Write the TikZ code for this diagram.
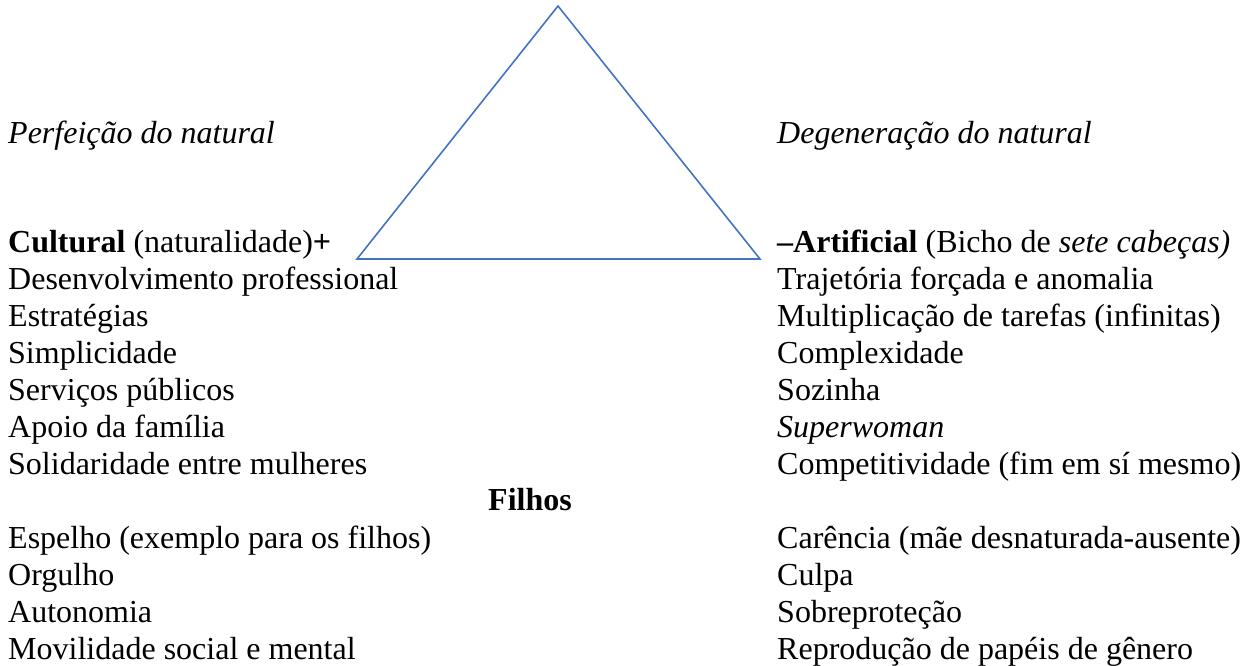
\documentclass[tikz,border=0pt]{standalone}
\usepackage{fontspec}
\setmainfont{Liberation Serif}
\usepackage{xcolor}
\usepackage{tikz}
\usetikzlibrary{positioning}

\definecolor{triblue}{RGB}{68,114,196}
\newcommand{\rowfont}{\fontsize{32}{36.6}\selectfont}

\begin{document}
\begin{tikzpicture}[
  x=1pt, y=-1pt,
  txt/.style={inner sep=0pt, text height=25.6pt, text depth=11pt, font=\rowfont},
  nxt/.style={txt, below=0pt of #1.south west, anchor=north west},
  tri/.style={draw=triblue, line width=1.6pt, line join=miter}
]
  \useasboundingbox (0,0) rectangle (1253,666);

  % Triangle
  \coordinate (apex) at (558,6);
  \coordinate (bl) at (357,259);
  \coordinate (br) at (760,259);
  \draw[tri] (apex) -- (bl) -- (br) -- cycle;

  % Headings
  \node[txt, anchor=base west] (perf) at (8,143) {\itshape Perfeição do natural};
  \node[txt, anchor=base west] (degen) at (777,143) {\itshape Degeneração do natural};

  % Left column
  \node[txt, anchor=base west] (cult) at (8,252.5) {\textbf{Cultural} (naturalidade)\textbf{+}};
  \node[nxt=cult] (desenv) {Desenvolvimento professional};
  \node[nxt=desenv] (estrat) {Estratégias};
  \node[nxt=estrat] (simpl) {Simplicidade};
  \node[nxt=simpl] (serv) {Serviços públicos};
  \node[nxt=serv] (apoio) {Apoio da família};
  \node[nxt=apoio] (solid) {Solidaridade entre mulheres};

  \node[txt, anchor=base] (filhos) at (530,510) {\bfseries Filhos};

  \node[txt, below=36.6pt of solid.south west, anchor=north west] (espelho) {Espelho (exemplo para os filhos)};
  \node[nxt=espelho] (orgulho) {Orgulho};
  \node[nxt=orgulho] (auton) {Autonomia};
  \node[nxt=auton] (movil) {Movilidade social e mental};

  % Right column
  \node[txt, anchor=base west] (artif) at (777,252.5) {\textbf{–Artificial} (Bicho de \textit{sete cabeças)}};
  \node[nxt=artif] (traj) {Trajetória forçada e anomalia};
  \node[nxt=traj] (mult) {Multiplicação de tarefas (infinitas)};
  \node[nxt=mult] (compl) {Complexidade};
  \node[nxt=compl] (sozinha) {Sozinha};
  \node[nxt=sozinha] (superw) {\itshape Superwoman};
  \node[nxt=superw] (compet) {Competitividade (fim em sí mesmo)};

  \node[txt, below=36.6pt of compet.south west, anchor=north west] (carenc) {Carência (mãe desnaturada-ausente)};
  \node[nxt=carenc] (culpa) {Culpa};
  \node[nxt=culpa] (sobre) {Sobreproteção};
  \node[nxt=sobre] (reprod) {Reprodução de papéis de gênero};

\end{tikzpicture}
\end{document}
